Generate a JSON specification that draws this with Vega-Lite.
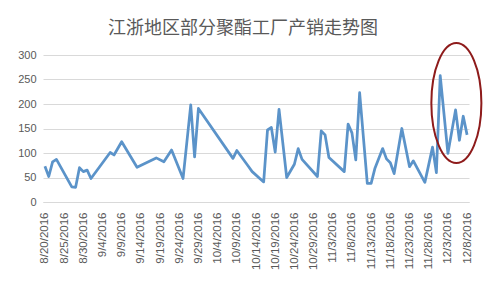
{
  "$schema": "https://vega.github.io/schema/vega-lite/v6.json",
  "width": 426,
  "height": 147,
  "autosize": {"type": "none"},
  "padding": {"left": 43, "top": 55, "right": 19, "bottom": 94},
  "background": "white",
  "title": {
    "text": "江浙地区部分聚酯工厂产销走势图",
    "font": "Noto Sans CJK SC",
    "fontSize": 18,
    "fontWeight": "normal",
    "color": "#595959",
    "anchor": "middle",
    "dx": -13,
    "offset": 1
  },
  "config": {
    "view": {"stroke": null},
    "axis": {
      "labelFont": "Liberation Sans",
      "labelFontSize": 11,
      "labelColor": "#595959",
      "title": null,
      "ticks": false,
      "gridColor": "#d9d9d9",
      "gridWidth": 1,
      "domainColor": "#d9d9d9"
    }
  },
  "data": {
    "values": [
      {"date": "2016-08-20T00:00", "value": 73},
      {"date": "2016-08-21T00:00", "value": 52},
      {"date": "2016-08-22T00:00", "value": 82},
      {"date": "2016-08-23T00:00", "value": 87},
      {"date": "2016-08-27T00:00", "value": 31},
      {"date": "2016-08-28T00:00", "value": 30},
      {"date": "2016-08-29T00:00", "value": 70},
      {"date": "2016-08-30T00:00", "value": 62},
      {"date": "2016-08-31T00:00", "value": 65},
      {"date": "2016-09-01T00:00", "value": 48},
      {"date": "2016-09-06T00:00", "value": 101},
      {"date": "2016-09-07T00:00", "value": 96},
      {"date": "2016-09-09T00:00", "value": 123},
      {"date": "2016-09-13T00:00", "value": 71},
      {"date": "2016-09-18T00:00", "value": 90},
      {"date": "2016-09-20T00:00", "value": 82},
      {"date": "2016-09-22T00:00", "value": 106},
      {"date": "2016-09-25T00:00", "value": 48},
      {"date": "2016-09-27T00:00", "value": 198},
      {"date": "2016-09-28T00:00", "value": 92},
      {"date": "2016-09-29T00:00", "value": 191},
      {"date": "2016-10-08T00:00", "value": 89},
      {"date": "2016-10-09T00:00", "value": 105},
      {"date": "2016-10-12T00:00", "value": 73},
      {"date": "2016-10-13T00:00", "value": 62},
      {"date": "2016-10-16T00:00", "value": 41},
      {"date": "2016-10-17T00:00", "value": 147},
      {"date": "2016-10-18T00:00", "value": 152},
      {"date": "2016-10-19T00:00", "value": 102},
      {"date": "2016-10-20T00:00", "value": 189},
      {"date": "2016-10-22T00:00", "value": 50},
      {"date": "2016-10-24T00:00", "value": 77},
      {"date": "2016-10-25T00:00", "value": 109},
      {"date": "2016-10-26T00:00", "value": 87},
      {"date": "2016-10-30T00:00", "value": 52},
      {"date": "2016-10-31T00:00", "value": 145},
      {"date": "2016-11-01T00:00", "value": 137},
      {"date": "2016-11-02T00:00", "value": 91},
      {"date": "2016-11-06T00:00", "value": 62},
      {"date": "2016-11-07T00:00", "value": 159},
      {"date": "2016-11-08T00:00", "value": 141},
      {"date": "2016-11-09T00:00", "value": 86},
      {"date": "2016-11-10T00:00", "value": 223},
      {"date": "2016-11-12T00:00", "value": 38},
      {"date": "2016-11-13T00:00", "value": 38},
      {"date": "2016-11-14T00:00", "value": 69},
      {"date": "2016-11-16T00:00", "value": 109},
      {"date": "2016-11-17T00:00", "value": 88},
      {"date": "2016-11-18T00:00", "value": 80},
      {"date": "2016-11-19T00:00", "value": 58},
      {"date": "2016-11-21T00:00", "value": 150},
      {"date": "2016-11-23T00:00", "value": 72},
      {"date": "2016-11-24T00:00", "value": 84},
      {"date": "2016-11-27T00:00", "value": 40},
      {"date": "2016-11-29T00:00", "value": 112},
      {"date": "2016-11-30T00:00", "value": 60},
      {"date": "2016-12-01T00:00", "value": 258},
      {"date": "2016-12-03T00:00", "value": 99},
      {"date": "2016-12-05T00:00", "value": 188},
      {"date": "2016-12-06T00:00", "value": 126},
      {"date": "2016-12-07T00:00", "value": 175},
      {"date": "2016-12-08T00:00", "value": 137}
    ]
  },
  "encoding": {
    "x": {
      "field": "date",
      "type": "temporal",
      "scale": {
        "domain": [
          {"year": 2016, "month": "Aug", "date": 19, "hours": 12},
          {"year": 2016, "month": "Dec", "date": 8, "hours": 12}
        ]
      },
      "axis": {
        "grid": false,
        "labelAngle": -90,
        "labelPadding": 10,
        "labelFontSize": 11.5,
        "labelOverlap": false,
        "labelFlush": false,
        "labelBound": false,
        "format": "%-m/%-d/%Y",
        "values": [
          {"year": 2016, "month": "Aug", "date": 20},
          {"year": 2016, "month": "Aug", "date": 25},
          {"year": 2016, "month": "Aug", "date": 30},
          {"year": 2016, "month": "Sep", "date": 4},
          {"year": 2016, "month": "Sep", "date": 9},
          {"year": 2016, "month": "Sep", "date": 14},
          {"year": 2016, "month": "Sep", "date": 19},
          {"year": 2016, "month": "Sep", "date": 24},
          {"year": 2016, "month": "Sep", "date": 29},
          {"year": 2016, "month": "Oct", "date": 4},
          {"year": 2016, "month": "Oct", "date": 9},
          {"year": 2016, "month": "Oct", "date": 14},
          {"year": 2016, "month": "Oct", "date": 19},
          {"year": 2016, "month": "Oct", "date": 24},
          {"year": 2016, "month": "Oct", "date": 29},
          {"year": 2016, "month": "Nov", "date": 3},
          {"year": 2016, "month": "Nov", "date": 8},
          {"year": 2016, "month": "Nov", "date": 13},
          {"year": 2016, "month": "Nov", "date": 18},
          {"year": 2016, "month": "Nov", "date": 23},
          {"year": 2016, "month": "Nov", "date": 28},
          {"year": 2016, "month": "Dec", "date": 3},
          {"year": 2016, "month": "Dec", "date": 8}
        ]
      }
    },
    "y": {
      "field": "value",
      "type": "quantitative",
      "scale": {"domain": [0, 300], "nice": false},
      "axis": {
        "values": [0, 50, 100, 150, 200, 250, 300],
        "grid": true,
        "domain": false,
        "labelPadding": 7
      }
    }
  },
  "layer": [
    {
      "mark": {"type": "line", "color": "#5b93c9", "strokeWidth": 2.75, "strokeJoin": "round"}
    },
    {
      "data": {"values": [{"date": "2016-12-05T05:00", "value": 202}]},
      "mark": {
        "type": "point",
        "shape": "M0,-1C0.23,-1,0.417,-0.5523,0.417,0C0.417,0.5523,0.23,1,0,1C-0.23,1,-0.417,0.5523,-0.417,0C-0.417,-0.5523,-0.23,-1,0,-1Z",
        "size": 14400,
        "filled": false,
        "stroke": "#8e1b1b",
        "strokeWidth": 2,
        "opacity": 1
      }
    }
  ]
}
